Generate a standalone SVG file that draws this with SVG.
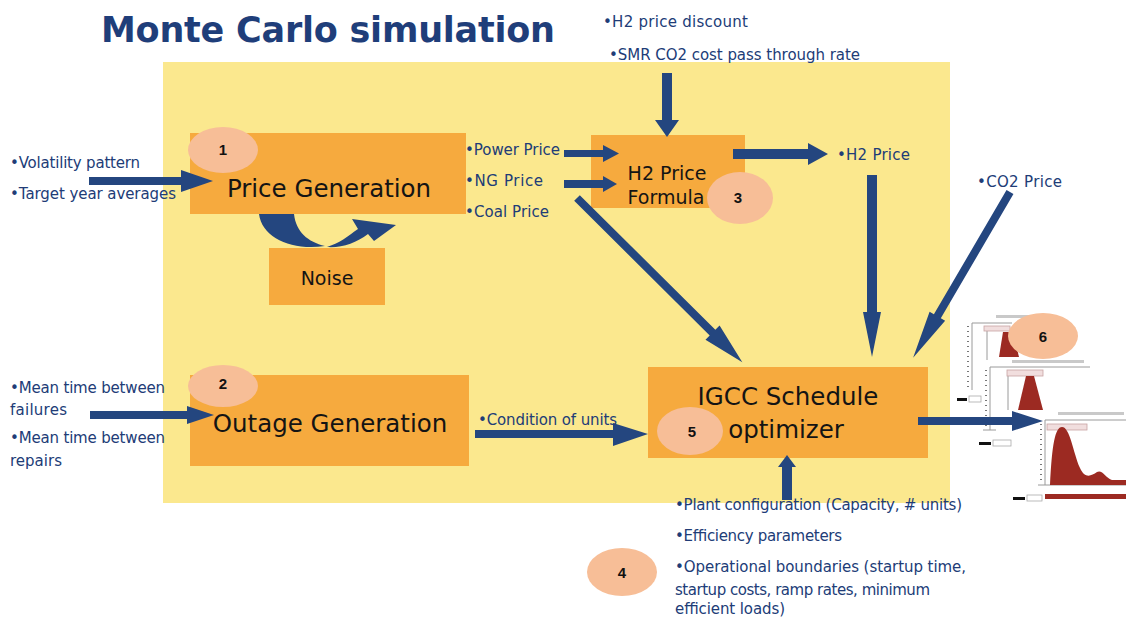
<svg xmlns="http://www.w3.org/2000/svg" width="1126" height="621" viewBox="0 0 1126 621">
  <style>
    .panel { fill: #FBE88E; }
    .box { fill: #F6AA3E; }
    .badge { fill: #F7BE97; }
    .num { font-family: "Liberation Sans", Arial, sans-serif; font-weight: bold; font-size: 15px; fill: #111; text-anchor: middle; }
    .node { font-family: "DejaVu Sans", sans-serif; font-size: 24.5px; fill: #141414; text-anchor: middle; }
    .node-sm { font-family: "DejaVu Sans", sans-serif; font-size: 19px; fill: #141414; text-anchor: middle; }
    .lbl { font-family: "DejaVu Sans", sans-serif; font-size: 15px; fill: #213C77; }
    .title { font-family: "DejaVu Sans", sans-serif; font-weight: bold; font-size: 35px; fill: #1F3E7A; }
    .arrow { fill: #24467F; }
    .axis { stroke: #9a9a9a; stroke-width: 1; fill: none; }
    .tick { stroke: #777; stroke-width: 2; stroke-dasharray: 1 4; fill: none; }
    .faint { fill: #c9c9c9; }
    .tag { fill: #f1dede; stroke: #c9a3a3; stroke-width: 0.8; }
    .dist { fill: #9C2A22; }
    .key { fill: #111; }
    .keybox { fill: #fff; stroke: #aaa; stroke-width: 0.8; }
  </style>

  <!-- white page and the simulation area -->
  <rect x="0" y="0" width="1126" height="621" fill="#ffffff"/>
  <rect id="simulation-area" class="panel" x="163" y="62" width="787" height="441"/>

  <text id="title" class="title" x="101" y="42" textLength="454">Monte Carlo simulation</text>

  <!-- process nodes -->
  <g id="price-generation">
    <rect class="box" x="190" y="133" width="276" height="81"/>
    <text class="node" x="329" y="197">Price Generation</text>
  </g>
  <g id="noise">
    <rect class="box" x="269" y="248" width="116" height="57"/>
    <text class="node-sm" x="327" y="285">Noise</text>
  </g>
  <g id="h2-price-formula">
    <rect class="box" x="591" y="135" width="154" height="73"/>
    <text class="node-sm" x="667" y="180">H2 Price</text>
    <text class="node-sm" x="666" y="204">Formula</text>
  </g>
  <g id="outage-generation">
    <rect class="box" x="190" y="375" width="279" height="91"/>
    <text class="node" x="330" y="432">Outage Generation</text>
  </g>
  <g id="igcc-schedule-optimizer">
    <rect class="box" x="648" y="367" width="280" height="91"/>
    <text class="node" x="788" y="405">IGCC Schedule</text>
    <text class="node" x="786" y="438">optimizer</text>
  </g>

  <!-- result distributions -->
  <g id="result-distributions">
    <!-- chart A -->
    <rect class="faint" x="996" y="315" width="50" height="3"/>
    <line class="axis" x1="972" y1="323" x2="1012" y2="323"/>
    <line class="axis" x1="972" y1="323" x2="972" y2="390"/>
    <line class="tick" x1="968" y1="326" x2="968" y2="388"/>
    <line class="axis" x1="987" y1="326" x2="987" y2="360" stroke="#e2bcbc"/>
    <rect class="tag" x="984" y="326" width="26" height="5"/>
    <polygon class="dist" points="999,357 1003,332 1013,332 1019,357"/>
    <rect class="key" x="957" y="398" width="10" height="3"/>
    <rect class="keybox" x="969" y="396" width="12" height="6"/>

    <!-- chart B -->
    <rect class="faint" x="1012" y="360" width="72" height="3"/>
    <line class="axis" x1="990" y1="367" x2="1090" y2="367"/>
    <line class="axis" x1="990" y1="367" x2="990" y2="430"/>
    <line class="tick" x1="986" y1="370" x2="986" y2="428"/>
    <line class="axis" x1="983" y1="430" x2="996" y2="430"/>
    <line class="axis" x1="1008" y1="370" x2="1008" y2="410" stroke="#e2bcbc"/>
    <rect class="tag" x="1007" y="370" width="36" height="6"/>
    <polygon class="dist" points="1018,410 1026,376 1034,376 1043,410"/>
    <rect class="key" x="979" y="442" width="12" height="3"/>
    <rect class="keybox" x="993" y="440" width="18" height="6"/>

    <!-- chart C -->
    <rect class="faint" x="1058" y="412" width="66" height="3"/>
    <line class="axis" x1="1045" y1="420" x2="1126" y2="420"/>
    <line class="axis" x1="1045" y1="420" x2="1045" y2="485"/>
    <line class="tick" x1="1041" y1="424" x2="1041" y2="483"/>
    <line class="axis" x1="1038" y1="485" x2="1126" y2="485"/>
    <rect class="tag" x="1047" y="424" width="40" height="6"/>
    <path class="dist" d="M1050,485 C1052,445 1055,427 1062,427 C1070,427 1073,452 1080,468 C1085,479 1091,476 1097,472 C1102,469 1106,478 1112,480 L1126,480 L1126,485 Z"/>
    <rect class="key" x="1013" y="497" width="12" height="3"/>
    <rect class="keybox" x="1027" y="495" width="15" height="6"/>
    <rect class="dist" x="1045" y="494" width="81" height="5"/>
  </g>

  <!-- connectors -->
  <g id="connectors">
    <polygon class="arrow" points="89,177 181,177 181,170 213,181 181,192 181,185 89,185"/>
    <polygon class="arrow" points="90,411 187,411 187,406 214,415 187,424 187,419 90,419"/>
    <path class="arrow" d="M259,214 C262,238 292,251 325,246 C308,242 296,232 294,214 Z"/>
    <path class="arrow" d="M327,247 C340,243 348,236 358,229 L352,219 L396,225 L374,241 L368,234 C356,243 342,248 327,247 Z"/>
    <polygon class="arrow" points="564,150 603,150 603,145 619,153.5 603,162 603,157 564,157"/>
    <polygon class="arrow" points="564,180 603,180 603,176 617,184 603,192 603,188 564,188"/>
    <polygon class="arrow" points="733,149 808,149 808,143 828,154 808,165 808,159 733,159"/>
    <polygon class="arrow" points="662,73 672,73 672,120 679,120 667,137 655,120 662,120"/>
    <polygon class="arrow" points="867,175 877,175 877,312 881,312 872,357 863,312 867,312"/>
    <g transform="translate(577,198) rotate(44.8)">
      <polygon class="arrow" points="0,-4 191,-4 191,-10 233,0 191,10 191,4 0,4"/>
    </g>
    <g transform="translate(1010,192) rotate(120.3)">
      <polygon class="arrow" points="0,-4 144,-4 144,-9 192,0 144,9 144,4 0,4"/>
    </g>
    <polygon class="arrow" points="475,430 613,430 613,423 648,434 613,446 613,438 475,438"/>
    <polygon class="arrow" points="782,500 782,467 778,467 787,455 796,467 792,467 792,500"/>
    <polygon class="arrow" points="918,417 1012,417 1012,411 1043,421 1012,431 1012,425 918,425"/>
  </g>

  <!-- numbered badges -->
  <g id="badge-1"><ellipse class="badge" cx="223" cy="150" rx="35" ry="23"/><text class="num" x="223" y="155">1</text></g>
  <g id="badge-2"><ellipse class="badge" cx="223" cy="386" rx="35" ry="21"/><text class="num" x="223" y="389">2</text></g>
  <g id="badge-3"><ellipse class="badge" cx="740" cy="198" rx="33" ry="26"/><text class="num" x="738" y="203">3</text></g>
  <g id="badge-4"><ellipse class="badge" cx="622" cy="572" rx="35" ry="24"/><text class="num" x="622" y="578">4</text></g>
  <g id="badge-5"><ellipse class="badge" cx="690" cy="431" rx="33" ry="24"/><text class="num" x="692" y="437">5</text></g>
  <g id="badge-6"><ellipse class="badge" cx="1043" cy="336" rx="35" ry="23"/><text class="num" x="1043" y="342">6</text></g>

  <!-- input and output labels -->
  <g id="labels">
    <text class="lbl" x="603" y="27" textLength="145">•H2 price discount</text>
    <text class="lbl" x="609" y="60" textLength="251">•SMR CO2 cost pass through rate</text>
    <text class="lbl" x="10" y="168" textLength="130">•Volatility pattern</text>
    <text class="lbl" x="10" y="199" textLength="166">•Target year averages</text>
    <text class="lbl" x="465" y="155" textLength="95">•Power Price</text>
    <text class="lbl" x="465" y="186" textLength="78">•NG Price</text>
    <text class="lbl" x="465" y="217" textLength="84">•Coal Price</text>
    <text class="lbl" x="837" y="160" textLength="73">•H2 Price</text>
    <text class="lbl" x="977" y="187" textLength="85">•CO2 Price</text>
    <text class="lbl" x="10" y="393" textLength="155">•Mean time between</text>
    <text class="lbl" x="10" y="415" textLength="57">failures</text>
    <text class="lbl" x="10" y="443" textLength="155">•Mean time between</text>
    <text class="lbl" x="10" y="466" textLength="52">repairs</text>
    <text class="lbl" x="478" y="425" textLength="139" fill="#1b2f57">•Condition of units</text>
    <text class="lbl" x="675" y="510" textLength="287">•Plant configuration (Capacity, # units)</text>
    <text class="lbl" x="675" y="541" textLength="167">•Efficiency parameters</text>
    <text class="lbl" x="675" y="572" textLength="291">•Operational boundaries (startup time,</text>
    <text class="lbl" x="675" y="595" textLength="255">startup costs, ramp rates, minimum</text>
    <text class="lbl" x="675" y="614" textLength="110">efficient loads)</text>
  </g>
</svg>
